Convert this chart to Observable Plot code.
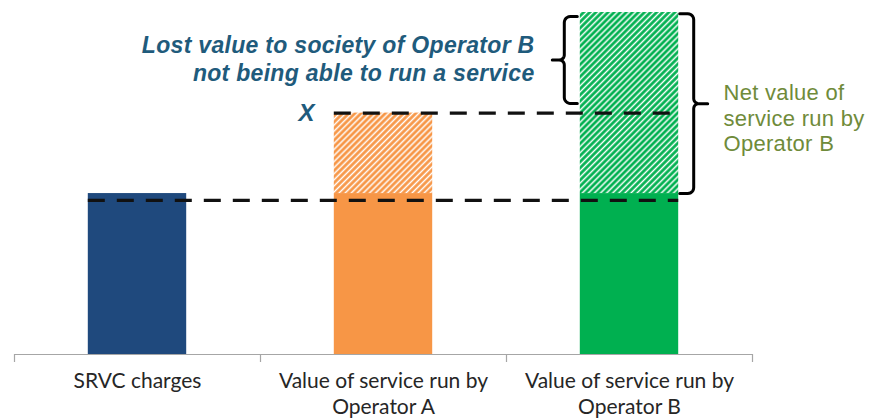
<!DOCTYPE html>
<html><head><meta charset="utf-8">
<script src="https://cdn.jsdelivr.net/npm/d3@7"></script>
<script src="https://cdn.jsdelivr.net/npm/@observablehq/plot@0.6"></script>
<style>body{margin:0;background:#fff;} #chart{width:872px;height:420px;overflow:hidden;}</style>
</head><body><div id="chart"></div>
<script>
// ---- data ----
const categories = ["SRVC charges", "Value of service run by\nOperator A", "Value of service run by\nOperator B"];
const baseValues = [4.0, 4.0, 4.0];      // solid part of each bar
const totalValues = [4.0, 6.0, 8.5];     // top of each bar (hatched above base)
const barColors = ["#1f497d", "#f79646", "#00b050"];
const dashLevels = [3.83, 6.0];          // dashed reference lines
const dashStartIndex = [0, 1];           // bar where each dashed line starts
const xMarkLabel = "X";
const lostText = "Lost value to society of Operator B\nnot being able to run a service";
const netText = "Net value of\nservice run by\nOperator B";
const lostBrace = [6.24, 8.4];
const netBrace = [4.0, 8.47];

// ---- layout ----
const W = 872, H = 420, mL = 14, mR = 120, mT = 12, mB = 66;
const yMax = 8.5, nCat = categories.length;
const PXX = (W - mL - mR) / nCat, PXY = (H - mT - mB) / yMax;
const barHalf = 0.2;
const toX = px => (px - mL) / PXX, toY = px => (H - mB - px) / PXY;
const pX = v => mL + v * PXX, pY = v => H - mB - v * PXY;

function arc(cx, cy, r, a0, a1, n = 6) {
  const pts = [];
  for (let k = 0; k <= n; k++) {
    const a = a0 + (a1 - a0) * k / n;
    pts.push([cx + r * Math.cos(a), cy + r * Math.sin(a)]);
  }
  return pts;
}
// brace beside a bar edge (xEdge in data units), dir=-1 extends left, +1 right
function brace(xEdge, range, dir, hook, vert, tip) {
  const a = pX(xEdge) + dir * hook, b = pX(xEdge) + dir * vert, c = pX(xEdge) + dir * tip;
  const top = pY(range[1]), bot = pY(range[0]), mid = (top + bot) / 2;
  const r = 6, r2 = 5;
  let pts = [[a, top]];
  const cx1 = b - dir * r;
  pts = pts.concat(arc(cx1, top + r, r, -Math.PI / 2, dir < 0 ? -Math.PI : 0));
  pts.push([b, mid - r2 - 2]);
  const cx2 = b + dir * r2;
  pts = pts.concat(arc(cx2, mid - r2, r2, dir < 0 ? 0 : Math.PI, Math.PI / 2));
  pts.push([c, mid]);
  pts.push([cx2, mid]);
  pts = pts.concat(arc(cx2, mid + r2, r2, -Math.PI / 2, dir < 0 ? 0 : -Math.PI));
  pts.push([b, bot - r]);
  pts = pts.concat(arc(cx1, bot - r, r, dir < 0 ? Math.PI : 0, Math.PI / 2));
  pts.push([a, bot]);
  return pts.map(([x, y]) => ({x: toX(x), y: toY(y)}));
}

const marks = [];
categories.forEach((c, i) => {
  marks.push(Plot.rectY([{x1: i + 0.5 - barHalf, x2: i + 0.5 + barHalf, y1: 0, y2: baseValues[i]}],
    {x1: "x1", x2: "x2", y1: "y1", y2: "y2", fill: barColors[i]}));
  if (totalValues[i] > baseValues[i]) {
    marks.push(Plot.rectY([{x1: i + 0.5 - barHalf, x2: i + 0.5 + barHalf, y1: baseValues[i], y2: totalValues[i]}],
      {x1: "x1", x2: "x2", y1: "y1", y2: "y2", fill: `url(#hatch${i})`}));
  }
});
// axis
marks.push(Plot.ruleY([0], {x1: 0, x2: nCat, stroke: "#a6a6a6", strokeWidth: 1.2}));
marks.push(Plot.ruleX(d3.range(nCat + 1), {y1: 0, y2: toY(pY(0) + 8), stroke: "#a6a6a6", strokeWidth: 1.2}));
// dashed lines
dashLevels.forEach((v, k) => {
  marks.push(Plot.ruleY([v], {x1: dashStartIndex[k] + 0.5 - barHalf, x2: nCat - 0.5 + barHalf,
    stroke: "#111", strokeWidth: 3.4, strokeDasharray: "17,12"}));
});
// braces
const lastI = nCat - 1;
marks.push(Plot.line(brace(lastI + 0.5 - barHalf, lostBrace, -1, 3, 16, 28), {x: "x", y: "y", stroke: "#000", strokeWidth: 3, strokeLinejoin: "round", strokeLinecap: "round"}));
marks.push(Plot.line(brace(lastI + 0.5 + barHalf, netBrace, 1, 1, 15, 29), {x: "x", y: "y", stroke: "#000", strokeWidth: 3, strokeLinejoin: "round", strokeLinecap: "round"}));
// category labels
marks.push(Plot.text(categories, {x: (d, i) => i + 0.5, y: 0, text: d => d, dy: 16, lineAnchor: "top",
  lineHeight: 1.2, fontSize: 21, fill: "#262626", fontFamily: "Lato, sans-serif", ariaDescription: "cat"}));
// annotations
marks.push(Plot.text([lostText], {x: toX(534), y: toY(57.5), text: d => d, textAnchor: "end", lineAnchor: "middle",
  lineHeight: 1.2, fontSize: 23, fontWeight: "bold", fontStyle: "italic", fill: "#1f5b7c",
  fontFamily: "Liberation Sans, Arial, sans-serif", ariaDescription: "lost"}));
marks.push(Plot.text([xMarkLabel], {x: toX(306), y: dashLevels[1], text: d => d, textAnchor: "middle",
  fontSize: 24, fontWeight: "bold", fontStyle: "italic", fill: "#1f5b7c",
  fontFamily: "Liberation Sans, Arial, sans-serif"}));
marks.push(Plot.text([netText], {x: toX(723), y: toY(117), text: d => d, textAnchor: "start", lineAnchor: "middle",
  lineHeight: 1.14, fontSize: 22, fill: "#6f8b3a",
  fontFamily: "Liberation Sans, Arial, sans-serif", ariaDescription: "net"}));

const svg = Plot.plot({
  width: W, height: H, marginLeft: mL, marginRight: mR, marginTop: mT, marginBottom: mB,
  x: {type: "linear", domain: [0, nCat], axis: null},
  y: {type: "linear", domain: [0, yMax], axis: null},
  style: {background: "#fff", overflow: "visible"},
  marks
});

const defs = d3.select(svg).insert("defs", ":first-child");
const P = 4.3;
barColors.forEach((c, i) => {
  const p = defs.append("pattern").attr("id", "hatch" + i).attr("patternUnits", "userSpaceOnUse")
    .attr("width", P).attr("height", P).attr("patternTransform", "rotate(45)");
  p.append("rect").attr("width", P).attr("height", P).attr("fill", c);
  p.append("line").attr("x1", P / 2).attr("y1", -1).attr("x2", P / 2).attr("y2", P + 1)
    .attr("stroke", "#fff").attr("stroke-width", 1.5);
});
d3.select(svg).selectAll('g[aria-description="lost"] text').style("letter-spacing", "0.3px");
d3.select(svg).selectAll('g[aria-description="net"] text').style("letter-spacing", "0.3px");
document.getElementById("chart").appendChild(svg);
</script>
</body></html>
